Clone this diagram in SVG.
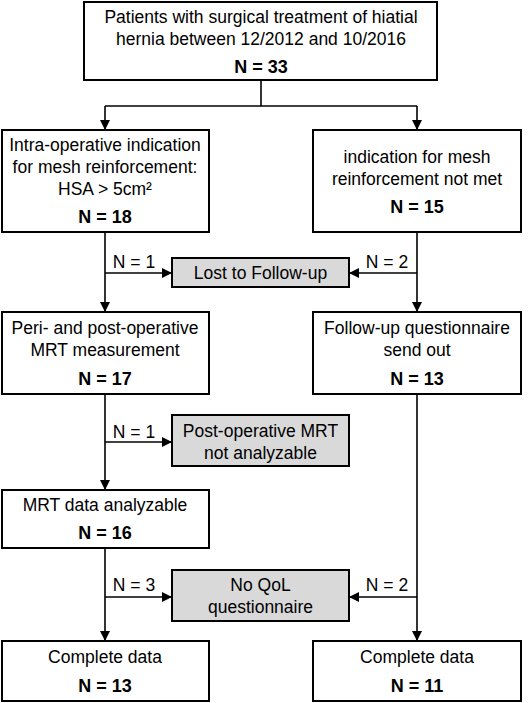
<svg xmlns="http://www.w3.org/2000/svg" width="529" height="703" viewBox="0 0 529 703">
<style>
.box{fill:#fff;stroke:#000;stroke-width:2}
.grey{fill:#d9d9d9;stroke:#000;stroke-width:2}
.t{font-family:"Liberation Sans",Arial,sans-serif;font-size:17.5px;fill:#000;text-anchor:middle}
.b{font-weight:bold;font-size:18px}
.c{fill:none;stroke:#000;stroke-width:1.6}
</style>
<defs>
<marker id="ah" viewBox="0 0 10 10" refX="10" refY="5" markerWidth="10" markerHeight="10" markerUnits="userSpaceOnUse" orient="auto">
<path d="M0,0 L10,5 L0,10 z" fill="#000"/>
</marker>
</defs>
<rect width="529" height="703" fill="#fff"/>
<g id="connectors">
<path class="c" d="M261,80 V106"/>
<path class="c" d="M105,106 H417"/>
<path class="c" d="M105,106 V130" marker-end="url(#ah)"/>
<path class="c" d="M417,106 V130" marker-end="url(#ah)"/>
<path class="c" d="M105,232 V312" marker-end="url(#ah)"/>
<path class="c" d="M417,232 V312" marker-end="url(#ah)"/>
<path class="c" d="M105,273 H172" marker-end="url(#ah)"/>
<path class="c" d="M417,273 H349" marker-end="url(#ah)"/>
<path class="c" d="M105,394 V490" marker-end="url(#ah)"/>
<path class="c" d="M105,442 H172" marker-end="url(#ah)"/>
<path class="c" d="M105,548 V641" marker-end="url(#ah)"/>
<path class="c" d="M105,597 H172" marker-end="url(#ah)"/>
<path class="c" d="M417,394 V641" marker-end="url(#ah)"/>
<path class="c" d="M417,597 H349" marker-end="url(#ah)"/>
<text class="t" x="134" y="268">N = 1</text>
<text class="t" x="387" y="268">N = 2</text>
<text class="t" x="134" y="438">N = 1</text>
<text class="t" x="134" y="591">N = 3</text>
<text class="t" x="387" y="591">N = 2</text>
</g>
<g id="n_top">
<rect class="box" x="84" y="2" width="353" height="78"/>
<text class="t" x="261" y="23">Patients with surgical treatment of hiatial</text>
<text class="t" x="261" y="45">hernia between 12/2012 and 10/2016</text>
<text class="t b" x="261" y="73">N = 33</text>
</g>
<g id="n_mesh">
<rect class="box" x="2" y="130" width="207" height="102"/>
<text class="t" x="105" y="151">Intra-operative indication</text>
<text class="t" x="105" y="173">for mesh reinforcement:</text>
<text class="t" x="105" y="195">HSA &gt; 5cm²</text>
<text class="t b" x="105" y="223">N = 18</text>
</g>
<g id="n_nomesh">
<rect class="box" x="313" y="130" width="208" height="102"/>
<text class="t" x="417" y="163">indication for mesh</text>
<text class="t" x="417" y="185">reinforcement not met</text>
<text class="t b" x="417" y="213">N = 15</text>
</g>
<g id="n_lost">
<rect class="grey" x="172" y="258" width="177" height="29"/>
<text class="t" x="260.5" y="279">Lost to Follow-up</text>
</g>
<g id="n_mrt">
<rect class="box" x="2" y="312" width="207" height="82"/>
<text class="t" x="105" y="334">Peri- and post-operative</text>
<text class="t" x="105" y="356">MRT measurement</text>
<text class="t b" x="105" y="385">N = 17</text>
</g>
<g id="n_fu">
<rect class="box" x="313" y="312" width="208" height="82"/>
<text class="t" x="417" y="334">Follow-up questionnaire</text>
<text class="t" x="417" y="356">send out</text>
<text class="t b" x="417" y="385">N = 13</text>
</g>
<g id="n_notan">
<rect class="grey" x="172" y="415" width="177" height="51"/>
<text class="t" x="260.5" y="437">Post-operative MRT</text>
<text class="t" x="260.5" y="459">not analyzable</text>
</g>
<g id="n_mrtok">
<rect class="box" x="2" y="490" width="207" height="58"/>
<text class="t" x="105" y="511">MRT data analyzable</text>
<text class="t b" x="105" y="539">N = 16</text>
</g>
<g id="n_noqol">
<rect class="grey" x="172" y="570" width="177" height="51"/>
<text class="t" x="260.5" y="591">No QoL</text>
<text class="t" x="260.5" y="613">questionnaire</text>
</g>
<g id="n_compL">
<rect class="box" x="2" y="641" width="207" height="60"/>
<text class="t" x="105" y="663">Complete data</text>
<text class="t b" x="105" y="692">N = 13</text>
</g>
<g id="n_compR">
<rect class="box" x="313" y="641" width="208" height="60"/>
<text class="t" x="417" y="663">Complete data</text>
<text class="t b" x="417" y="692">N = 11</text>
</g>
</svg>
